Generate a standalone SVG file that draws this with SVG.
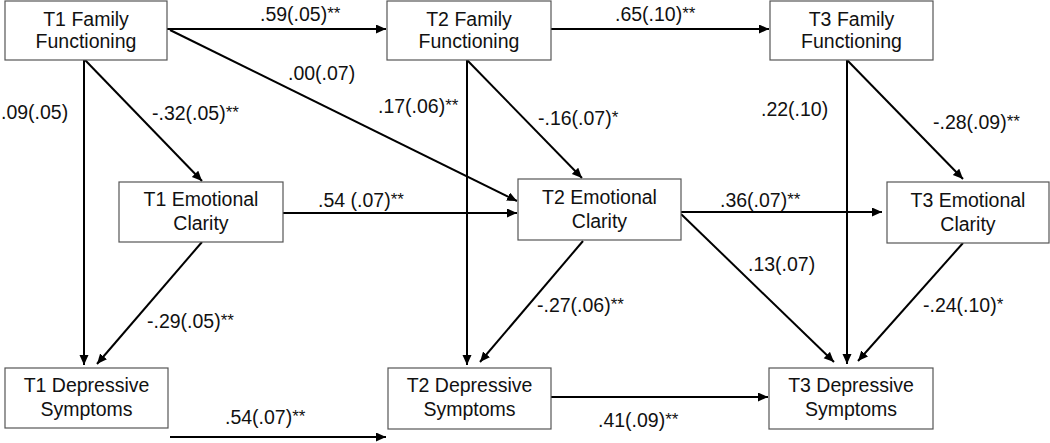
<svg xmlns="http://www.w3.org/2000/svg" width="1050" height="443" viewBox="0 0 1050 443">
<defs>
<marker id="ah" markerUnits="userSpaceOnUse" markerWidth="11" markerHeight="10" refX="10" refY="4.5" orient="auto">
<path d="M0,0 L10,4.5 L0,9 z" fill="#000"/>
</marker>
<style>
.box{fill:#fff;stroke:#555;stroke-width:1.2}
.nt{font-family:"Liberation Sans",Arial,sans-serif;font-size:19.5px;fill:#111;text-anchor:middle}
.lb{font-family:"Liberation Sans",Arial,sans-serif;font-size:19.5px;fill:#111}
.st{font-size:17px}
.cn{stroke:#000;stroke-width:2;fill:none;marker-end:url(#ah)}
</style>
</defs>
<rect width="1050" height="443" fill="#fff"/>
<g id="connectors">
<path class="cn" d="M167,29 L386,29"/>
<path class="cn" d="M551,29 L769,29"/>
<path class="cn" d="M170,30 L517,201"/>
<path class="cn" d="M84,60 L84,365"/>
<path class="cn" d="M85,60 L202,181"/>
<path class="cn" d="M283,213 L517,213"/>
<path class="cn" d="M202,242 L97,364"/>
<path class="cn" d="M467,60 L467,365"/>
<path class="cn" d="M467,60 L582,178"/>
<path class="cn" d="M681,212 L882,212"/>
<path class="cn" d="M681,214 L834,362"/>
<path class="cn" d="M583,241 L480,362"/>
<path class="cn" d="M847,60 L847,364"/>
<path class="cn" d="M847,60 L963,179"/>
<path class="cn" d="M963,243 L858,361"/>
<path class="cn" d="M170,437 L386,437"/>
<path class="cn" d="M551,397 L768,397"/>
</g>
<g id="labels">
<text class="lb" x="260" y="21">.59(.05)<tspan class="st" dy="-2">**</tspan></text>
<text class="lb" x="615" y="21">.65(.10)<tspan class="st" dy="-2">**</tspan></text>
<text class="lb" x="288" y="80">.00(.07)</text>
<text class="lb" x="1" y="119">.09(.05)</text>
<text class="lb" x="152" y="120">-.32(.05)<tspan class="st" dy="-2">**</tspan></text>
<text class="lb" x="378" y="113">.17(.06)<tspan class="st" dy="-2">**</tspan></text>
<text class="lb" x="538" y="125">-.16(.07)<tspan class="st" dy="-2">*</tspan></text>
<text class="lb" x="761" y="116">.22(.10)</text>
<text class="lb" x="933" y="129">-.28(.09)<tspan class="st" dy="-2">**</tspan></text>
<text class="lb" x="318" y="207">.54 (.07)<tspan class="st" dy="-2">**</tspan></text>
<text class="lb" x="720" y="207">.36(.07)<tspan class="st" dy="-2">**</tspan></text>
<text class="lb" x="748" y="271">.13(.07)</text>
<text class="lb" x="147" y="328">-.29(.05)<tspan class="st" dy="-2">**</tspan></text>
<text class="lb" x="537" y="312">-.27(.06)<tspan class="st" dy="-2">**</tspan></text>
<text class="lb" x="923" y="312">-.24(.10)<tspan class="st" dy="-2">*</tspan></text>
<text class="lb" x="225" y="424">.54(.07)<tspan class="st" dy="-2">**</tspan></text>
<text class="lb" x="598" y="427">.41(.09)<tspan class="st" dy="-2">**</tspan></text>
</g>
<g id="t1ff"><rect class="box" x="5" y="1" width="162" height="59"/><text class="nt" x="86" y="26">T1 Family</text><text class="nt" x="86" y="48">Functioning</text></g>
<g id="t2ff"><rect class="box" x="387" y="1" width="164" height="59"/><text class="nt" x="469" y="26">T2 Family</text><text class="nt" x="469" y="48">Functioning</text></g>
<g id="t3ff"><rect class="box" x="770" y="1" width="163" height="59"/><text class="nt" x="851.5" y="26">T3 Family</text><text class="nt" x="851.5" y="48">Functioning</text></g>
<g id="t1ec"><rect class="box" x="119" y="182" width="164" height="60"/><text class="nt" x="201" y="206">T1 Emotional</text><text class="nt" x="201" y="230">Clarity</text></g>
<g id="t2ec"><rect class="box" x="518" y="179" width="163" height="61"/><text class="nt" x="599.5" y="204">T2 Emotional</text><text class="nt" x="599.5" y="228">Clarity</text></g>
<g id="t3ec"><rect class="box" x="887" y="182" width="162" height="61"/><text class="nt" x="968" y="207">T3 Emotional</text><text class="nt" x="968" y="231">Clarity</text></g>
<g id="t1dep"><rect class="box" x="5" y="368" width="163" height="60"/><text class="nt" x="86.5" y="392">T1 Depressive</text><text class="nt" x="86.5" y="416">Symptoms</text></g>
<g id="t2dep"><rect class="box" x="388" y="368" width="163" height="61"/><text class="nt" x="469.5" y="392">T2 Depressive</text><text class="nt" x="469.5" y="416">Symptoms</text></g>
<g id="t3dep"><rect class="box" x="769" y="368" width="164" height="61"/><text class="nt" x="851" y="392">T3 Depressive</text><text class="nt" x="851" y="416">Symptoms</text></g>
</svg>
